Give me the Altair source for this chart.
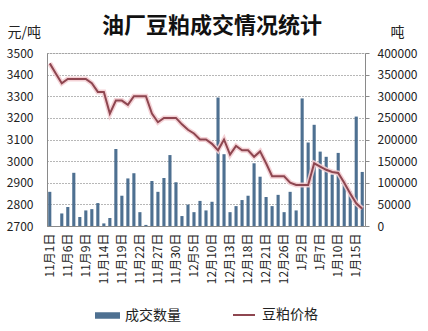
import altair as alt
import pandas as pd

dates = [
    "11月1日", "11月2日", "11月5日", "11月6日", "11月7日", "11月8日", "11月9日",
    "11月12日", "11月13日", "11月14日", "11月15日", "11月16日", "11月19日", "11月20日",
    "11月21日", "11月22日", "11月23日", "11月26日", "11月27日", "11月28日", "11月29日",
    "11月30日", "12月3日", "12月4日", "12月5日", "12月6日", "12月7日", "12月10日",
    "12月11日", "12月12日", "12月13日", "12月14日", "12月17日", "12月18日", "12月19日",
    "12月20日", "12月21日", "12月24日", "12月25日", "12月26日", "12月27日", "12月28日",
    "1月2日", "1月3日", "1月4日", "1月7日", "1月8日", "1月9日", "1月10日",
    "1月11日", "1月14日", "1月15日", "1月16日",
]

volume = [
    79000, 0, 29000, 44000, 123000, 21000, 36000, 39000, 53000, 6000,
    18500, 178000, 70000, 110000, 122000, 32000, 2500, 104000, 79000, 111000,
    164000, 101000, 23000, 49500, 32000, 58000, 36000, 56000, 297000, 166000,
    32000, 46000, 60000, 70000, 145000, 114000, 67000, 46000, 72000, 32000,
    79000, 36000, 295000, 193000, 234000, 172000, 160000, 119000, 169000, 105000,
    81000, 253000, 125000,
]

price = [
    3452, 3405, 3360, 3380, 3380, 3380, 3380, 3360, 3320, 3320,
    3220, 3280, 3280, 3260, 3300, 3300, 3300, 3220, 3180, 3200,
    3200, 3200, 3170, 3145, 3128, 3100, 3100, 3080, 3050, 3100,
    3030, 3070, 3050, 3050, 3020, 3045, 2990, 2930, 2930, 2930,
    2900, 2890, 2890, 2890, 2990, 2975, 2960, 2950, 2945, 2900,
    2850, 2805, 2780,
]

label_dates = dates[::3]
price_ticks = [2700, 2800, 2900, 3000, 3100, 3200, 3300, 3400, 3500]
volume_ticks = [0, 50000, 100000, 150000, 200000, 250000, 300000, 350000, 400000]
series_names = ["成交数量", "豆粕价格"]

FONT = "Noto Sans CJK SC"
BLUE = "#4E7091"
RED = "#8E4650"
GLOW = "#F3CDD2"
TXT = "#222222"
AXC = "#8A8A8A"

df = pd.DataFrame({
    "date": dates,
    "volume": volume,
    "price": price,
    "s1": series_names[0],
    "s2": series_names[1],
})

x_enc = alt.X(
    "date:N", sort=dates, title=None,
    scale=alt.Scale(paddingInner=0.48, paddingOuter=0.2),
    axis=alt.Axis(values=label_dates, labelAngle=-90, labelFont=FONT, labelFontSize=12,
                  labelColor=TXT, ticks=False, labelPadding=7, domainColor=AXC,
                  labelOverlap=False),
)

bars = alt.Chart(df).mark_bar(color=BLUE).encode(
    x=x_enc,
    y=alt.Y("volume:Q", scale=alt.Scale(domain=[0, 400000], nice=False),
            axis=alt.Axis(orient="right", values=volume_ticks, format="d", grid=False,
                          title="吨", titleAngle=0, titleX=32, titleY=-21,
                          titleAlign="center", titleBaseline="middle",
                          titleFont=FONT, titleFontSize=14, titleFontWeight="normal",
                          titleColor=TXT, labelFont=FONT, labelFontSize=12,
                          labelColor=TXT, tickSize=4, tickColor=AXC, domainColor=AXC,
                          labelPadding=8)),
    fill=alt.Fill("s1:N", scale=alt.Scale(domain=[series_names[0]], range=[BLUE]),
                  legend=alt.Legend(orient="none", legendX=48, legendY=250, title=None,
                                    symbolType="M-1,-0.26L1,-0.26L1,0.26L-1,0.26Z",
                                    symbolSize=625, symbolStrokeWidth=0, labelOffset=5,
                                    labelFont=FONT, labelFontSize=14, labelColor=TXT)),
)

y_price = alt.Y("price:Q", scale=alt.Scale(domain=[2700, 3500], nice=False),
                axis=alt.Axis(orient="left", values=price_ticks, format="d", grid=True,
                              gridDash=[1, 2], gridColor="#6E6E6E", gridWidth=1,
                              title="元/吨", titleAngle=0, titleX=-40, titleY=-21,
                              titleAlign="left", titleBaseline="middle",
                              titleFont=FONT, titleFontSize=14, titleFontWeight="normal",
                              titleColor=TXT, labelFont=FONT, labelFontSize=12,
                              labelColor=TXT, ticks=False, tickSize=0, domainColor=AXC,
                              labelPadding=14))

glow = alt.Chart(df).mark_line(color=GLOW, strokeWidth=5, opacity=0.9).encode(
    x=x_enc, y=y_price,
)

line = alt.Chart(df).mark_line(strokeWidth=2).encode(
    x=x_enc,
    y=y_price,
    stroke=alt.Stroke("s2:N", scale=alt.Scale(domain=[series_names[1]], range=[RED]),
                      legend=alt.Legend(orient="none", legendX=185, legendY=250, title=None,
                                        symbolType="stroke", symbolSize=484,
                                        symbolStrokeWidth=2, labelOffset=6,
                                        labelFont=FONT, labelFontSize=14, labelColor=TXT)),
)

chart = alt.layer(bars, alt.layer(glow, line)).resolve_scale(
    y="independent"
).properties(
    width=318,
    height=173,
    autosize=alt.AutoSizeParams(type="none"),
    padding={"left": 47, "top": 53, "right": 63, "bottom": 105},
    title=alt.TitleParams("油厂豆粕成交情况统计", font=FONT, fontSize=22, fontWeight="bold",
                          color="#111111", anchor="middle", dx=6, dy=17),
).configure_view(stroke=None).configure(background="white")

chart.save("out.html", embed_options={"renderer": "svg", "actions": False})
